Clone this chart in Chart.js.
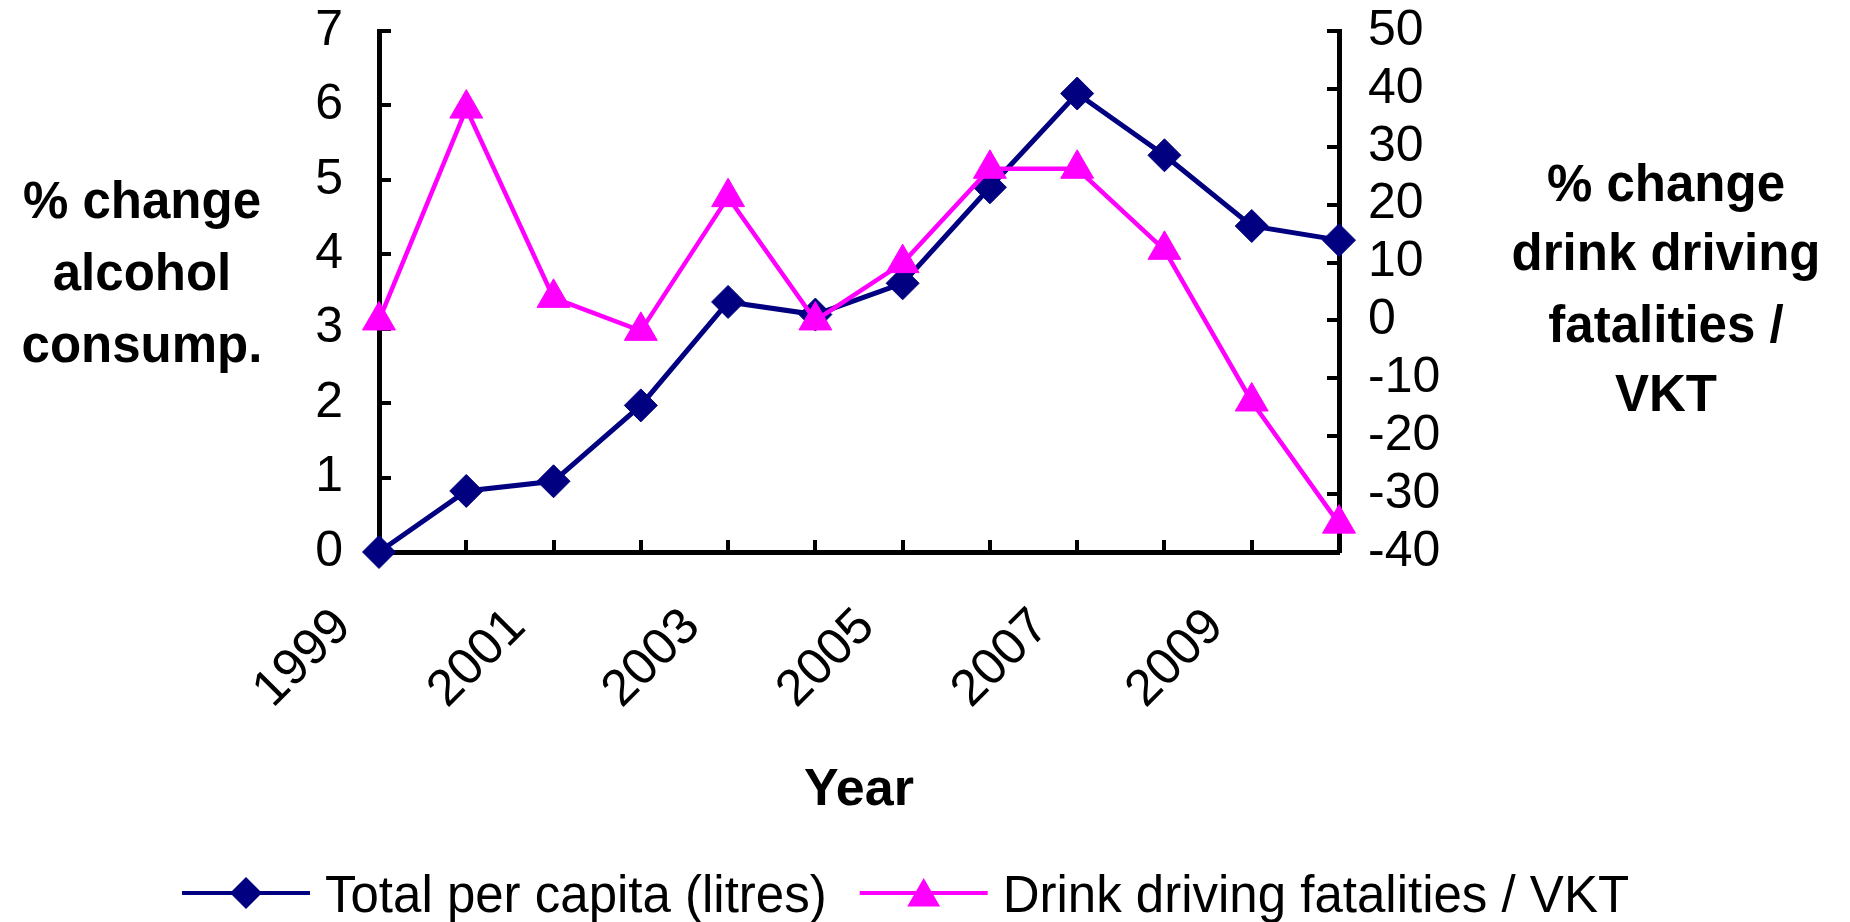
<!DOCTYPE html>
<html><head><meta charset="utf-8">
<script src="https://cdn.jsdelivr.net/npm/chart.js@4/dist/chart.umd.min.js"></script>
<style>html,body{margin:0;padding:0;background:#fff;} canvas{display:block}</style>
</head><body>
<canvas id="c" width="1850" height="922"></canvas>
<script>
// ---- data ----
const years = ['1999','2000','2001','2002','2003','2004','2005','2006','2007','2008','2009','2010'];
const alcoholChange = [0, 0.82, 0.95, 1.97, 3.36, 3.19, 3.61, 4.90, 6.16, 5.33, 4.38, 4.19];
const fatalityChange = [0, 36.6, 3.9, -1.8, 21.3, 0, 9.9, 26.2, 26.2, 12.2, -14.0, -35.1];
const seriesNames = ['Total per capita (litres)', 'Drink driving fatalities / VKT'];
const leftTitle = ['% change', 'alcohol', 'consump.'];
const rightTitle = ['% change', 'drink driving', 'fatalities /', 'VKT'];
const xTitle = 'Year';
const leftRange = [0, 7, 1];
const rightRange = [-40, 50, 10];

// ---- style ----
const NAVY = '#000080', MAGENTA = '#FF00FF';
const FONT = '"Liberation Sans", Arial, Helvetica, sans-serif';

function drawDiamond(ctx, x, y, r) {
  ctx.beginPath();
  ctx.moveTo(x - r, y); ctx.lineTo(x, y - r); ctx.lineTo(x + r, y); ctx.lineTo(x, y + r);
  ctx.closePath(); ctx.fill();
}
function drawTriangle(ctx, x, y, r) {
  ctx.beginPath();
  ctx.moveTo(x, y - r);
  ctx.lineTo(x + r * Math.sin(2*Math.PI/3), y - r * Math.cos(2*Math.PI/3));
  ctx.lineTo(x + r * Math.sin(4*Math.PI/3), y - r * Math.cos(4*Math.PI/3));
  ctx.closePath(); ctx.fill();
}

const innerTicks = {
  id: 'innerTicks',
  beforeDatasetsDraw(chart) {
    const ctx = chart.ctx, a = chart.chartArea, L = 12;
    const {x, y, y2} = chart.scales;
    ctx.save();
    ctx.strokeStyle = '#000'; ctx.lineWidth = 4; ctx.lineCap = 'butt';
    ctx.beginPath();
    y.ticks.forEach((t, i) => { const p = Math.round(y.getPixelForTick(i)); ctx.moveTo(a.left, p); ctx.lineTo(a.left + L, p); });
    y2.ticks.forEach((t, i) => { const p = Math.round(y2.getPixelForTick(i)); ctx.moveTo(a.right, p); ctx.lineTo(a.right - L, p); });
    x.ticks.forEach((t, i) => { const p = Math.round(x.getPixelForTick(i)); ctx.moveTo(p, a.bottom); ctx.lineTo(p, a.bottom - L); });
    ctx.stroke();
    ctx.restore();
  }
};

const sideTextAndLegend = {
  id: 'sideTextAndLegend',
  afterDraw(chart) {
    const ctx = chart.ctx;
    ctx.save();
    ctx.fillStyle = '#000';
    ctx.textAlign = 'center';
    ctx.textBaseline = 'alphabetic';
    ctx.font = 'bold 51px ' + FONT;
    const lb = [218, 290, 362];
    leftTitle.forEach((t, i) => ctx.fillText(t, 142, lb[i]));
    const rb = [201, 270, 342, 411];
    rightTitle.forEach((t, i) => ctx.fillText(t, 1666, rb[i]));

    // legend
    const ds = chart.data.datasets;
    ctx.font = '51px ' + FONT;
    ctx.textAlign = 'left';
    const ly = 893;
    let lx = 182;
    ds.forEach((d, i) => {
      ctx.strokeStyle = d.borderColor; ctx.lineWidth = 4;
      ctx.beginPath(); ctx.moveTo(lx, ly); ctx.lineTo(lx + 128, ly); ctx.stroke();
      ctx.fillStyle = d.backgroundColor;
      if (d.pointStyle === 'rectRot') drawDiamond(ctx, lx + 64, ly, 16);
      else drawTriangle(ctx, lx + 64, ly + 4, 19);
      ctx.fillStyle = '#000';
      ctx.fillText(d.label, lx + 143, 912);
      lx += 143 + ctx.measureText(d.label).width + 33;
    });
    ctx.restore();
  }
};

new Chart(document.getElementById('c'), {
  type: 'line',
  data: {
    labels: years,
    datasets: [
      { label: seriesNames[0], data: alcoholChange, yAxisID: 'y', order: 1,
        borderColor: NAVY, backgroundColor: NAVY, borderWidth: 5,
        pointStyle: 'rectRot', pointRadius: 16.5, pointHoverRadius: 16.5,
        pointBorderWidth: 1, pointBorderColor: NAVY, pointBackgroundColor: NAVY,
        tension: 0, clip: false },
      { label: seriesNames[1], data: fatalityChange, yAxisID: 'y2', order: 0,
        borderColor: MAGENTA, backgroundColor: MAGENTA, borderWidth: 4.5,
        pointStyle: 'triangle', pointRadius: 19, pointHoverRadius: 19,
        pointBorderWidth: 1, pointBorderColor: MAGENTA, pointBackgroundColor: MAGENTA,
        tension: 0, clip: false }
    ]
  },
  options: {
    responsive: false,
    animation: false,
    devicePixelRatio: 1,
    layout: { padding: { top: 31, left: 0, right: 0, bottom: 0 } },
    plugins: { legend: { display: false }, tooltip: { enabled: false }, title: { display: false } },
    scales: {
      x: {
        type: 'category',
        offset: false,
        grid: { display: false },
        border: { display: true, color: '#000', width: 5 },
        ticks: {
          autoSkip: false, maxRotation: 45, minRotation: 45,
          padding: 37, labelOffset: -36,
          color: '#000', font: { family: FONT, size: 51 },
          callback: function (v, i) { return i % 2 === 0 ? this.getLabelForValue(v) : ''; }
        },
        title: { display: true, text: xTitle, color: '#000', font: { family: FONT, size: 52, weight: 'bold' }, padding: { top: 0, bottom: 100 } },
        afterFit(s) { s.height = 922 - 552; }
      },
      y: {
        position: 'left',
        min: leftRange[0], max: leftRange[1],
        grid: { display: false, tickLength: 36 },
        border: { display: true, color: '#000', width: 5 },
        ticks: { stepSize: leftRange[2], padding: 0, color: '#000', font: { family: FONT, size: 50, lineHeight: 1 } },
        afterFit(s) { s.width = 379; }
      },
      y2: {
        position: 'right',
        min: rightRange[0], max: rightRange[1],
        grid: { display: false, tickLength: 29 },
        border: { display: true, color: '#000', width: 5 },
        ticks: { stepSize: rightRange[2], padding: 0, color: '#000', font: { family: FONT, size: 50, lineHeight: 1 } },
        afterFit(s) { s.width = 1850 - 1339; }
      }
    }
  },
  plugins: [innerTicks, sideTextAndLegend]
});
</script>
</body></html>
